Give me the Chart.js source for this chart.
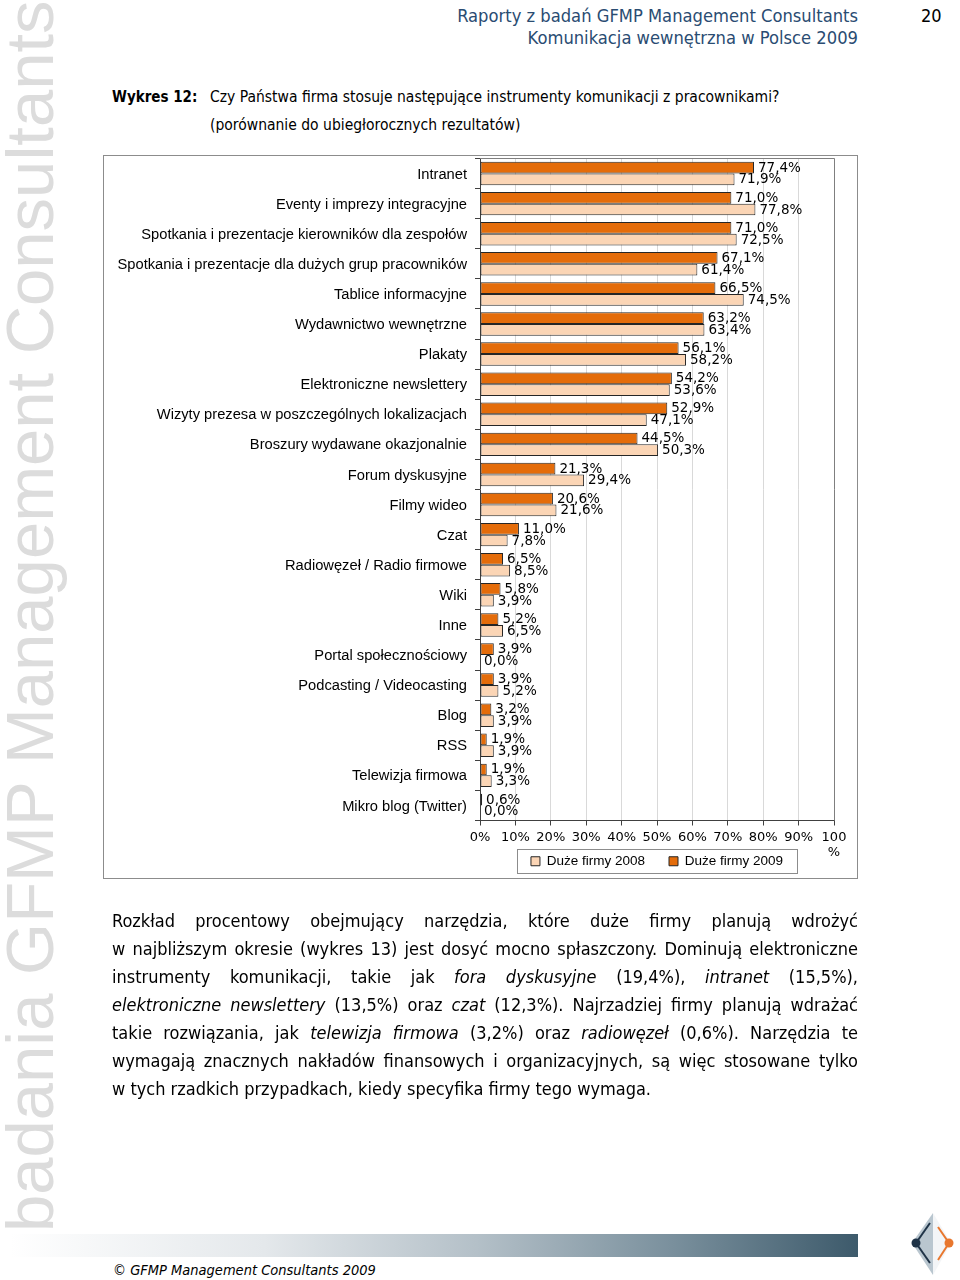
<!DOCTYPE html>
<html>
<head>
<meta charset="utf-8">
<script src="https://cdn.jsdelivr.net/npm/chart.js@4.4.1/dist/chart.umd.min.js"></script>
<style>
html,body{margin:0;padding:0;background:#fff;}
#page{position:relative;width:960px;height:1280px;overflow:hidden;font-family:"DejaVu Sans Condensed","DejaVu Sans",sans-serif;color:#000;}
#wm{position:absolute;left:0;top:0;font-family:"Liberation Sans",Arial,sans-serif;font-size:67px;line-height:67px;color:#dcdcdc;white-space:nowrap;transform-origin:0 0;transform:translate(-4px,1232px) rotate(-90deg);}
.hdr{position:absolute;right:102px;font-size:18.2px;line-height:22px;color:#2a4c72;text-align:right;white-space:nowrap;}
#pnum{position:absolute;left:921px;top:5px;font-size:18px;line-height:22px;}
.ttl{position:absolute;font-size:15.5px;line-height:20px;white-space:nowrap;}
#frame{position:absolute;left:103px;top:155px;width:755px;height:724px;box-sizing:border-box;border:1px solid #8c8c8c;}
#chart{position:absolute;left:0;top:0;}
#para{position:absolute;left:112px;top:907px;width:746px;font-size:18px;line-height:28px;}
.ln{display:block;text-align:justify;text-align-last:justify;white-space:normal;}
.ln.last{text-align-last:left;}
#bar{position:absolute;left:10px;top:1234px;width:848px;height:23px;background:linear-gradient(to right,#ffffff 0%,#e4e8eb 30%,#b4c0c8 55%,#7a909d 78%,#3d5a6b 100%);}
#foot{position:absolute;left:113px;top:1260px;font-size:14.5px;line-height:20px;font-style:italic;white-space:nowrap;}
</style>
</head>
<body>
<div id="page">
  <div id="wm">badania GFMP Management Consultants</div>
  <div class="hdr" style="top:5px;">Raporty z badań GFMP Management Consultants</div>
  <div class="hdr" style="top:27px;">Komunikacja wewnętrzna w Polsce 2009</div>
  <div id="pnum">20</div>
  <div class="ttl" style="left:112px;top:87px;font-weight:bold;font-size:15px;">Wykres 12:</div>
  <div class="ttl" style="left:210px;top:87px;">Czy Państwa firma stosuje następujące instrumenty komunikacji z pracownikami?</div>
  <div class="ttl" style="left:210px;top:115px;">(porównanie do ubiegłorocznych rezultatów)</div>

  <div id="frame"><canvas id="chart" width="753" height="752" style="width:753px;height:752px;"></canvas></div>

  <div id="para">
    <span class="ln">Rozkład procentowy obejmujący narzędzia, które duże firmy planują wdrożyć</span>
    <span class="ln">w najbliższym okresie (wykres 13) jest dosyć mocno spłaszczony. Dominują elektroniczne</span>
    <span class="ln">instrumenty komunikacji, takie jak <i>fora dyskusyjne</i> (19,4%), <i>intranet</i> (15,5%),</span>
    <span class="ln"><i>elektroniczne newslettery</i> (13,5%) oraz <i>czat</i> (12,3%). Najrzadziej firmy planują wdrażać</span>
    <span class="ln">takie rozwiązania, jak <i>telewizja firmowa</i> (3,2%) oraz <i>radiowęzeł</i> (0,6%). Narzędzia te</span>
    <span class="ln">wymagają znacznych nakładów finansowych i organizacyjnych, są więc stosowane tylko</span>
    <span class="ln last">w tych rzadkich przypadkach, kiedy specyfika firmy tego wymaga.</span>
  </div>

  <div id="bar"></div>
  <div id="foot">© GFMP Management Consultants 2009</div>
  <svg width="50" height="70" viewBox="0 0 50 70" style="position:absolute;left:905px;top:1210px;">
    <polygon points="28,3 7,33 28,65" fill="#b9c6cf"/>
    <polygon points="28,3 46,33 28,65" fill="#f3f5f7"/>
    <line x1="11" y1="33" x2="25" y2="13" stroke="#1f3347" stroke-width="2"/>
    <line x1="11" y1="33" x2="25" y2="53" stroke="#1f3347" stroke-width="2"/>
    <line x1="44" y1="33" x2="33" y2="17" stroke="#e8772e" stroke-width="2"/>
    <line x1="44" y1="33" x2="33" y2="50" stroke="#e8772e" stroke-width="2"/>
    <circle cx="11" cy="33" r="4.5" fill="#1f3347"/>
    <circle cx="44" cy="33" r="4.5" fill="#e8772e"/>
  </svg>
</div>

<script>
// ---- data ----
const categories = [
  "Intranet",
  "Eventy i imprezy integracyjne",
  "Spotkania i prezentacje kierowników dla zespołów",
  "Spotkania i prezentacje dla dużych grup pracowników",
  "Tablice informacyjne",
  "Wydawnictwo wewnętrzne",
  "Plakaty",
  "Elektroniczne newslettery",
  "Wizyty prezesa w poszczególnych lokalizacjach",
  "Broszury wydawane okazjonalnie",
  "Forum dyskusyjne",
  "Filmy wideo",
  "Czat",
  "Radiowęzeł / Radio firmowe",
  "Wiki",
  "Inne",
  "Portal społecznościowy",
  "Podcasting / Videocasting",
  "Blog",
  "RSS",
  "Telewizja firmowa",
  "Mikro blog (Twitter)"
];
const values2009 = [77.4, 71.0, 71.0, 67.1, 66.5, 63.2, 56.1, 54.2, 52.9, 44.5, 21.3, 20.6, 11.0, 6.5, 5.8, 5.2, 3.9, 3.9, 3.2, 1.9, 1.9, 0.6];
const values2008 = [71.9, 77.8, 72.5, 61.4, 74.5, 63.4, 58.2, 53.6, 47.1, 50.3, 29.4, 21.6, 7.8, 8.5, 3.9, 6.5, 0.0, 5.2, 3.9, 3.9, 3.3, 0.0];
const seriesLabels = ["Duże firmy 2009", "Duże firmy 2008"];

// ---- paragraph fitting ----
(function(){
  const W = 746;
  document.querySelectorAll('#para .ln').forEach(el => {
    const probe = document.createElement('span');
    probe.style.cssText = 'position:absolute;visibility:hidden;white-space:nowrap;font-size:18px;font-family:inherit;';
    probe.innerHTML = el.innerHTML;
    document.getElementById('para').appendChild(probe);
    const w = probe.getBoundingClientRect().width;
    probe.remove();
    if (w > W - 1) {
      const n = el.textContent.length;
      el.style.letterSpacing = (-(w - W + 2) / n) + 'px';
    }
  });
})();

const fmt = v => v.toFixed(1).replace('.', ',') + '%';

const barLabels = {
  id: 'barLabels',
  afterDatasetsDraw(chart) {
    const ctx = chart.ctx;
    ctx.save();
    ctx.font = '13.5px "DejaVu Sans"';
    ctx.fillStyle = '#000';
    ctx.textBaseline = 'middle';
    ctx.textAlign = 'left';
    chart.data.datasets.forEach((ds, i) => {
      const meta = chart.getDatasetMeta(i);
      meta.data.forEach((el, j) => {
        ctx.fillText(fmt(ds.data[j]), el.x + 4, el.y + 0.5);
      });
    });
    ctx.restore();
  }
};

const plotFrame = {
  id: 'plotFrame',
  afterLayout(chart) {
    // lift the legend so that it sits beside the second line of the last tick label
    const lg = chart.legend;
    if (lg) {
      const h = lg.height;
      lg.top = chart.chartArea.bottom + 10;
      lg.bottom = lg.top + h;
    }
  },
  beforeDatasetsDraw(chart) {
    const {ctx, chartArea: a} = chart;
    ctx.save();
    ctx.strokeStyle = '#7f7f7f';
    ctx.lineWidth = 1;
    ctx.beginPath();
    ctx.moveTo(a.left, Math.round(a.top) - 0.5);
    ctx.lineTo(a.right + 0.5, Math.round(a.top) - 0.5);
    ctx.lineTo(a.right + 0.5, a.bottom);
    ctx.stroke();
    ctx.restore();
  },
  afterDraw(chart) {
    const lg = chart.legend;
    if (!lg || !lg.legendHitBoxes || !lg.legendHitBoxes.length) return;
    const hb = lg.legendHitBoxes;
    const first = hb[0], last = hb[hb.length - 1];
    const cx = (first.left + last.left + last.width) / 2;
    const yc = first.top + first.height / 2;
    const ctx = chart.ctx;
    ctx.save();
    ctx.strokeStyle = '#8c8c8c';
    ctx.lineWidth = 1;
    ctx.strokeRect(Math.round(cx - 140) + 0.5, Math.round(yc - 12) + 0.5, 280, 24);
    ctx.restore();
  }
};

new Chart(document.getElementById('chart'), {
  type: 'bar',
  data: {
    labels: categories,
    datasets: [
      {
        label: seriesLabels[0],
        data: values2009,
        backgroundColor: '#E46C0A',
        borderColor: '#262626',
        borderWidth: 1,
        borderSkipped: false,
        categoryPercentage: 0.78,
        barPercentage: 1.0
      },
      {
        label: seriesLabels[1],
        data: values2008,
        backgroundColor: '#FBD5B5',
        borderColor: '#262626',
        borderWidth: 1,
        borderSkipped: false,
        categoryPercentage: 0.78,
        barPercentage: 1.0
      }
    ]
  },
  options: {
    indexAxis: 'y',
    responsive: false,
    animation: false,
    devicePixelRatio: 1,
    layout: { padding: { left: 0, right: 23, top: 2.5, bottom: 0 } },
    scales: {
      x: {
        min: 0, max: 100,
        ticks: {
          stepSize: 10,
          padding: 4,
          color: '#000',
          font: { family: '"DejaVu Sans"', size: 13 },
          maxRotation: 0,
          autoSkip: false,
          callback: v => v === 100 ? ['100', '%'] : v + '%'
        },
        grid: { color: '#d9d9d9', tickColor: '#404040', tickLength: 5 },
        border: { color: '#404040' },
        afterFit(s) { s.height = 40; s.paddingLeft = 0; s.paddingRight = 0; }
      },
      y: {
        ticks: {
          padding: 8,
          labelOffset: 1,
          color: '#000',
          font: { family: '"Liberation Sans"', size: 14.7 },
          autoSkip: false
        },
        grid: { drawOnChartArea: false, tickColor: '#404040', tickLength: 5 },
        border: { color: '#404040' },
        afterFit(s) { s.width = 376; s.paddingTop = 0; s.paddingBottom = 0; }
      }
    },
    plugins: {
      legend: {
        position: 'bottom',
        fullSize: false,
        reverse: true,
        labels: {
          boxWidth: 9,
          boxHeight: 9,
          padding: 24,
          color: '#000',
          font: { family: '"Liberation Sans"', size: 13.5 }
        }
      },
      tooltip: { enabled: false }
    }
  },
  plugins: [barLabels, plotFrame]
});
</script>
</body>
</html>
